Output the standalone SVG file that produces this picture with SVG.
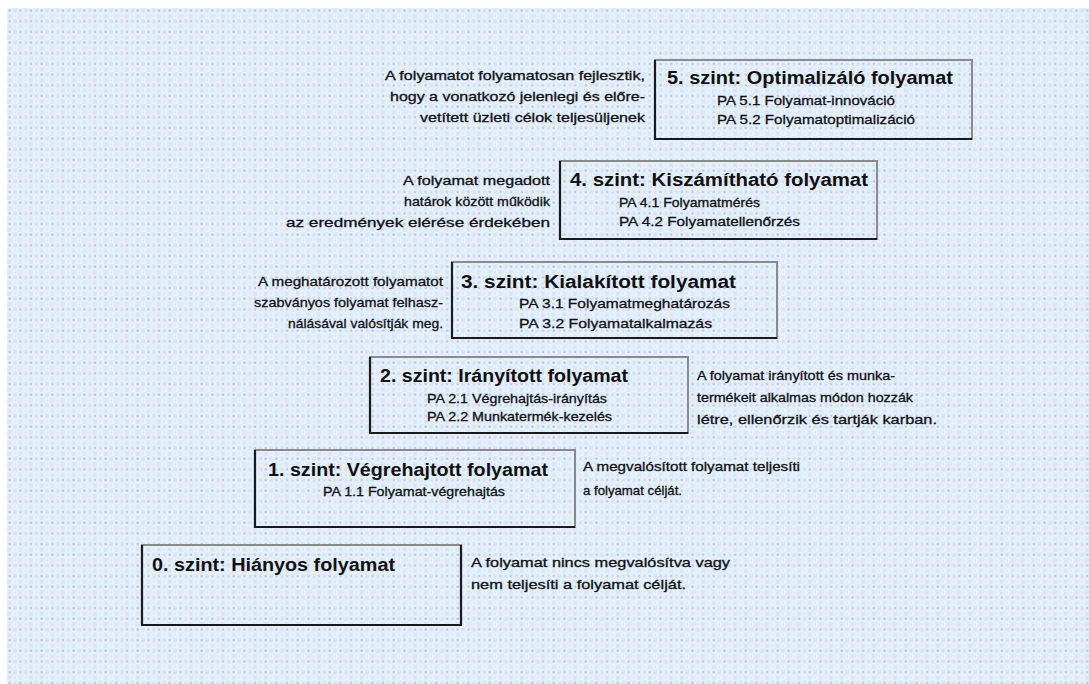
<svg xmlns="http://www.w3.org/2000/svg" width="1089" height="684" viewBox="0 0 1089 684">
  <defs>
    <!-- dotted light-blue paper texture -->
    <pattern id="paper" x="7" y="8" width="10.67" height="10.67" patternUnits="userSpaceOnUse">
      <rect width="10.67" height="10.67" fill="#dcedfa"/>
      <rect x="0" y="0" width="5.33" height="5.33" fill="#e6f3fc"/>
      <rect x="5.33" y="5.33" width="5.33" height="5.33" fill="#e6f3fc"/>
      <circle cx="2.6" cy="2.6" r="1.3" fill="#c6bfe6"/>
      <circle cx="8" cy="2.6" r="1.2" fill="#e9d6e2"/>
      <circle cx="2.6" cy="8" r="1.2" fill="#e9d6e2"/>
      <circle cx="8" cy="8" r="1" fill="#d5dff2"/>
    </pattern>
    <style>
      .frame { fill: none; stroke: #8a8a8a; stroke-width: 2; }
      .edge { fill: none; stroke: #1a1a1a; stroke-width: 2.2; }
      .title { font-family: "Liberation Sans", Arial, sans-serif; font-weight: bold; font-size: 18px; fill: #111; }
      .pa { font-family: "Liberation Sans", Arial, sans-serif; font-size: 13.5px; fill: #111; stroke: #111; stroke-width: 0.3; }
      .desc { font-family: "Liberation Sans", Arial, sans-serif; font-size: 13.5px; fill: #111; stroke: #111; stroke-width: 0.3; }
      .r { text-anchor: end; }
    </style>
  </defs>

  <rect width="1089" height="684" fill="#ffffff"/>
  <rect x="7" y="8" width="1082" height="676" fill="url(#paper)"/>

  <!-- Level 5 -->
  <g id="level5">
    <rect class="frame" x="655" y="60" width="317" height="79"/>
    <polyline class="edge" points="655,60 655,139 972,139"/>
    <text class="title" x="667" y="84" textLength="286" lengthAdjust="spacingAndGlyphs">5. szint: Optimalizáló folyamat</text>
    <text class="pa" x="717" y="105" textLength="178" lengthAdjust="spacingAndGlyphs">PA 5.1 Folyamat-innováció</text>
    <text class="pa" x="717" y="124" textLength="198" lengthAdjust="spacingAndGlyphs">PA 5.2 Folyamatoptimalizáció</text>
  </g>
  <g id="desc5">
    <text class="desc r" x="645" y="80" textLength="260" lengthAdjust="spacingAndGlyphs">A folyamatot folyamatosan fejlesztik,</text>
    <text class="desc r" x="645" y="101" textLength="255" lengthAdjust="spacingAndGlyphs">hogy a vonatkozó jelenlegi és előre-</text>
    <text class="desc r" x="645" y="122" textLength="225" lengthAdjust="spacingAndGlyphs">vetített üzleti célok teljesüljenek</text>
  </g>

  <!-- Level 4 -->
  <g id="level4">
    <rect class="frame" x="560" y="161" width="317" height="78"/>
    <polyline class="edge" points="560,161 560,239 877,239"/>
    <text class="title" x="570" y="186" textLength="298" lengthAdjust="spacingAndGlyphs">4. szint: Kiszámítható folyamat</text>
    <text class="pa" x="619" y="207" textLength="141" lengthAdjust="spacingAndGlyphs">PA 4.1 Folyamatmérés</text>
    <text class="pa" x="619" y="226" textLength="181" lengthAdjust="spacingAndGlyphs">PA 4.2 Folyamatellenőrzés</text>
  </g>
  <g id="desc4">
    <text class="desc r" x="550" y="185" textLength="147" lengthAdjust="spacingAndGlyphs">A folyamat megadott</text>
    <text class="desc r" x="550" y="206" textLength="146" lengthAdjust="spacingAndGlyphs">határok között működik</text>
    <text class="desc r" x="550" y="227" textLength="264" lengthAdjust="spacingAndGlyphs">az eredmények elérése érdekében</text>
  </g>

  <!-- Level 3 -->
  <g id="level3">
    <rect class="frame" x="452" y="262" width="325" height="76"/>
    <polyline class="edge" points="452,262 452,338 777,338"/>
    <text class="title" x="461" y="288" textLength="275" lengthAdjust="spacingAndGlyphs">3. szint: Kialakított folyamat</text>
    <text class="pa" x="519" y="308" textLength="211" lengthAdjust="spacingAndGlyphs">PA 3.1 Folyamatmeghatározás</text>
    <text class="pa" x="519" y="328" textLength="193" lengthAdjust="spacingAndGlyphs">PA 3.2 Folyamatalkalmazás</text>
  </g>
  <g id="desc3">
    <text class="desc r" x="443" y="286" textLength="185" lengthAdjust="spacingAndGlyphs">A meghatározott folyamatot</text>
    <text class="desc r" x="443" y="307" textLength="189" lengthAdjust="spacingAndGlyphs">szabványos folyamat felhasz-</text>
    <text class="desc r" x="443" y="328" textLength="155" lengthAdjust="spacingAndGlyphs">nálásával valósítják meg.</text>
  </g>

  <!-- Level 2 -->
  <g id="level2">
    <rect class="frame" x="370" y="357" width="318" height="76"/>
    <polyline class="edge" points="370,357 370,433 688,433"/>
    <text class="title" x="380" y="382" textLength="248" lengthAdjust="spacingAndGlyphs">2. szint: Irányított folyamat</text>
    <text class="pa" x="427" y="403" textLength="180" lengthAdjust="spacingAndGlyphs">PA 2.1 Végrehajtás-irányítás</text>
    <text class="pa" x="427" y="421" textLength="185" lengthAdjust="spacingAndGlyphs">PA 2.2 Munkatermék-kezelés</text>
  </g>
  <g id="desc2">
    <text class="desc" x="697" y="380" textLength="198" lengthAdjust="spacingAndGlyphs">A folyamat irányított és munka-</text>
    <text class="desc" x="697" y="402" textLength="216" lengthAdjust="spacingAndGlyphs">termékeit alkalmas módon hozzák</text>
    <text class="desc" x="697" y="424" textLength="240" lengthAdjust="spacingAndGlyphs">létre, ellenőrzik és tartják karban.</text>
  </g>

  <!-- Level 1 -->
  <g id="level1">
    <rect class="frame" x="255" y="450" width="320" height="77"/>
    <polyline class="edge" points="255,450 255,527 575,527"/>
    <text class="title" x="268" y="476" textLength="280" lengthAdjust="spacingAndGlyphs">1. szint: Végrehajtott folyamat</text>
    <text class="pa" x="323" y="496" textLength="182" lengthAdjust="spacingAndGlyphs">PA 1.1 Folyamat-végrehajtás</text>
  </g>
  <g id="desc1">
    <text class="desc" x="583" y="471" textLength="217" lengthAdjust="spacingAndGlyphs">A megvalósított folyamat teljesíti</text>
    <text class="desc" x="583" y="495" textLength="99" lengthAdjust="spacingAndGlyphs">a folyamat célját.</text>
  </g>

  <!-- Level 0 -->
  <g id="level0">
    <rect class="frame" x="142" y="545" width="319" height="80"/>
    <polyline class="edge" points="142,545 142,625 461,625 461,545"/>
    <text class="title" x="152" y="571" textLength="243" lengthAdjust="spacingAndGlyphs">0. szint: Hiányos folyamat</text>
  </g>
  <g id="desc0">
    <text class="desc" x="471" y="567" textLength="259" lengthAdjust="spacingAndGlyphs">A folyamat nincs megvalósítva vagy</text>
    <text class="desc" x="471" y="589" textLength="215" lengthAdjust="spacingAndGlyphs">nem teljesíti a folyamat célját.</text>
  </g>
</svg>
